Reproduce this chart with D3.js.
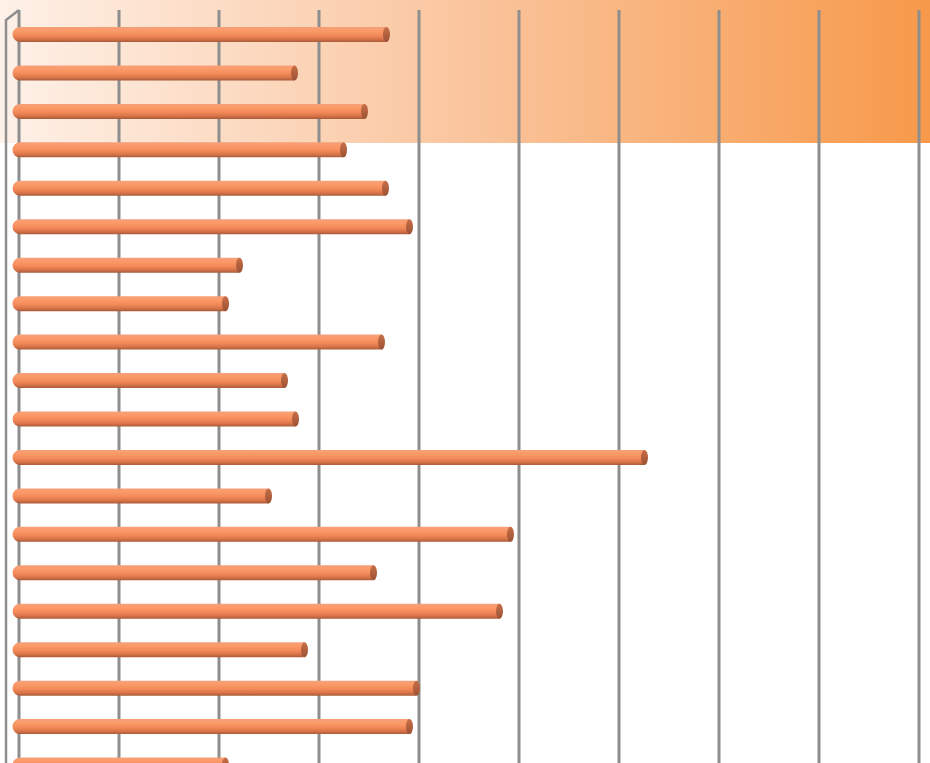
<!DOCTYPE html>
<html>
<head>
<meta charset="utf-8">
<script src="https://cdn.jsdelivr.net/npm/d3@7"></script>
<style>
  html, body { margin: 0; padding: 0; background: #ffffff; overflow: hidden; }
  svg { display: block; }
</style>
</head>
<body>
<svg id="chart" width="930" height="763"></svg>
<script>
// ---- data ----
const categories = ["C1","C2","C3","C4","C5","C6","C7","C8","C9","C10",
                    "C11","C12","C13","C14","C15","C16","C17","C18","C19","C20"];
const values = [3.74, 2.82, 3.52, 3.31, 3.73, 3.97, 2.27, 2.13, 3.69, 2.72,
                2.83, 6.32, 2.56, 4.98, 3.61, 4.87, 2.92, 4.04, 3.97, 2.13];
const tickValues = [0, 1, 2, 3, 4, 5, 6, 7, 8, 9];

// ---- layout ----
const W = 930, H = 763;
const svg = d3.select("#chart");
const depthX = 13, depthY = 10;      // 3D depth of the plot floor
const backTop = 10;

const x = d3.scaleLinear().domain([0, 9]).range([19, 919]);
const step = 38.45;
const y = d3.scaleBand().domain(categories).range([34.5 - step / 2, 34.5 - step / 2 + categories.length * step]).padding(0);

const defs = svg.append("defs");
const bandGrad = defs.append("linearGradient").attr("id", "bandGrad")
  .attr("x1", "0%").attr("x2", "100%").attr("y1", "0%").attr("y2", "0%");
bandGrad.append("stop").attr("offset", "0%").attr("stop-color", "#fef1e8");
bandGrad.append("stop").attr("offset", "50%").attr("stop-color", "#fac59e");
bandGrad.append("stop").attr("offset", "100%").attr("stop-color", "#f7994a");

const barGrad = defs.append("linearGradient").attr("id", "barGrad")
  .attr("x1", "0").attr("x2", "0").attr("y1", "0").attr("y2", "1");
barGrad.append("stop").attr("offset", "0%").attr("stop-color", "#f6a07a");
barGrad.append("stop").attr("offset", "25%").attr("stop-color", "#fb9a68");
barGrad.append("stop").attr("offset", "55%").attr("stop-color", "#f48a5a");
barGrad.append("stop").attr("offset", "80%").attr("stop-color", "#d97549");
barGrad.append("stop").attr("offset", "100%").attr("stop-color", "#a95a3a");

const capGrad = defs.append("linearGradient").attr("id", "capGrad")
  .attr("x1", "0").attr("x2", "0").attr("y1", "0").attr("y2", "1");
capGrad.append("stop").attr("offset", "0%").attr("stop-color", "#c86f48");
capGrad.append("stop").attr("offset", "100%").attr("stop-color", "#9c5234");

// ---- background band ----
svg.append("rect").attr("x", 0).attr("y", 0).attr("width", W).attr("height", 143)
  .attr("fill", "url(#bandGrad)");

// ---- gridlines (back wall) ----
svg.append("g").selectAll("line").data(tickValues).join("line")
  .attr("x1", d => x(d)).attr("x2", d => x(d))
  .attr("y1", backTop).attr("y2", H)
  .attr("stroke", "#8e8e8e").attr("stroke-width", 3);

// ---- left 3D axis edge ----
const x0 = x(0);
svg.append("path")
  .attr("d", `M${x0},${backTop} L${x0 - depthX},${backTop + depthY} L${x0 - depthX},${H}`)
  .attr("fill", "none").attr("stroke", "#8e8e8e").attr("stroke-width", 2.5);

// ---- bars (cylinders) ----
const barH = 15, r = barH / 2, capRx = 3.5;
const offX = -depthX / 2, offY = 0;
const bars = svg.append("g").selectAll("g").data(values).join("g");

bars.append("path")
  .attr("d", (d, i) => {
    const cy = y(categories[i]) + y.bandwidth() / 2 + offY;
    const xs = x(0) + offX;
    const xe = x(d) + offX;
    const top = cy - r, bot = cy + r;
    return `M${xe},${top} L${xs + r},${top} A${r},${r} 0 0 0 ${xs + r},${bot} L${xe},${bot} Z`;
  })
  .attr("fill", "url(#barGrad)");

bars.append("ellipse")
  .attr("cx", (d) => x(d) + offX)
  .attr("cy", (d, i) => y(categories[i]) + y.bandwidth() / 2 + offY)
  .attr("rx", capRx).attr("ry", r)
  .attr("fill", "url(#capGrad)");
</script>
</body>
</html>
